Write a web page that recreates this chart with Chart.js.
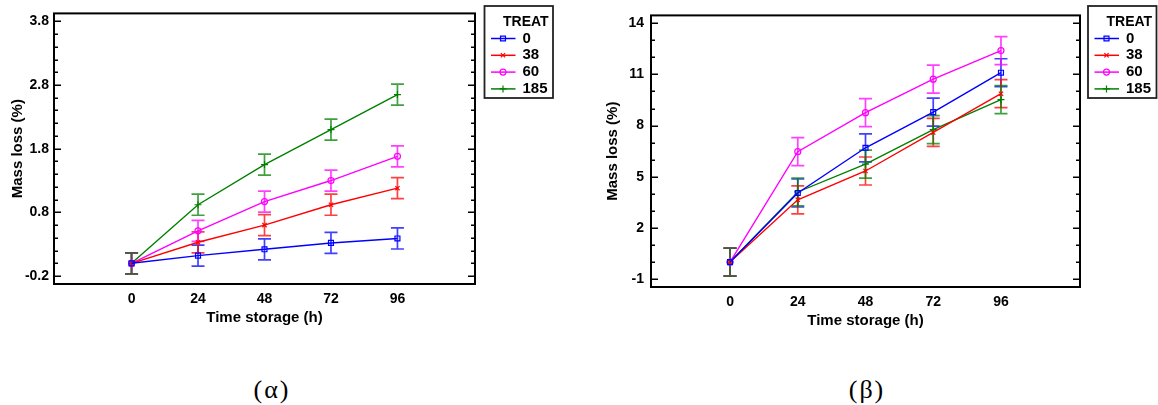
<!DOCTYPE html>
<html><head><meta charset="utf-8">
<script src="https://cdn.jsdelivr.net/npm/chart.js@4.4.1/dist/chart.umd.min.js"></script>
<style>
html,body{margin:0;padding:0;background:#fff;width:1158px;height:405px;overflow:hidden;}
canvas{position:absolute;top:0;}
#ca{left:0;}
#cb{left:580px;}
.cap{position:absolute;font-family:"Liberation Serif","Times New Roman",serif;font-size:26px;letter-spacing:2px;color:#000;transform:translateX(-50%);top:375px;white-space:nowrap;}
</style></head><body>
<canvas id="ca" width="580" height="345"></canvas>
<canvas id="cb" width="578" height="345"></canvas>
<div class="cap" style="left:272px">(α)</div>
<div class="cap" style="left:867px">(β)</div>
<script>
// ---- shared categories ----
const timeLabels = [0, 24, 48, 72, 96];
const treatLabels = ['0', '38', '60', '185'];
const seriesColors = ['#0000ff', '#ff0000', '#ff00ff', '#008000'];
const pointStyles = ['rect', 'crossRot', 'circle', 'cross'];

// ---- chart (α) values ----
const massA_0   = [0.00, 0.12, 0.22, 0.32, 0.39];
const massA_38  = [0.00, 0.33, 0.60, 0.92, 1.18];
const massA_60  = [0.00, 0.51, 0.97, 1.30, 1.68];
const massA_185 = [0.00, 0.92, 1.55, 2.10, 2.65];
const errA = [0.165, 0.165, 0.165, 0.165, 0.165];
const yTicksA = [-0.2, 0.8, 1.8, 2.8, 3.8];
const yTickLabelsA = ['-0.2', '0.8', '1.8', '2.8', '3.8'];

// ---- chart (β) values ----
const massB_0   = [0.00, 4.05, 6.70, 8.79, 11.10];
const massB_38  = [0.00, 3.65, 5.34, 7.60, 9.87];
const massB_60  = [0.00, 6.47, 8.76, 10.72, 12.40];
const massB_185 = [0.00, 4.11, 5.74, 7.76, 9.52];
const errB = [0.82, 0.82, 0.82, 0.82, 0.82];
const yTicksB = [-1, 2, 5, 8, 11, 14];
const yTickLabelsB = ['-1', '2', '5', '8', '11', '14'];

const FONT = '"Liberation Sans", Arial, sans-serif';

function makeDatasets(seriesList, errList) {
  return seriesList.map((arr, k) => ({
    label: treatLabels[k],
    data: timeLabels.map((t, i) => ({ x: t, y: arr[i] })),
    errors: errList,
    borderColor: seriesColors[k],
    backgroundColor: 'rgba(255,255,255,0)',
    borderWidth: 1.4,
    pointStyle: pointStyles[k],
    pointRadius: k === 0 ? 3.5 : (k === 3 ? 3.5 : 3),
    pointBorderWidth: 1.2,
    pointBorderColor: seriesColors[k],
    tension: 0
  }));
}

function drawMarker(ctx, style, x, y, r, color) {
  ctx.save();
  ctx.strokeStyle = color; ctx.lineWidth = 1.2;
  ctx.beginPath();
  if (style === 'rect') { const s = r * Math.SQRT1_2; ctx.rect(x - s, y - s, 2 * s, 2 * s); }
  else if (style === 'circle') { ctx.arc(x, y, r, 0, Math.PI * 2); }
  else if (style === 'crossRot') { const s = r * Math.SQRT1_2; ctx.moveTo(x - s, y - s); ctx.lineTo(x + s, y + s); ctx.moveTo(x - s, y + s); ctx.lineTo(x + s, y - s); }
  else if (style === 'cross') { ctx.moveTo(x - r, y); ctx.lineTo(x + r, y); ctx.moveTo(x, y - r); ctx.lineTo(x, y + r); }
  ctx.stroke();
  ctx.restore();
}

const decorPlugin = {
  id: 'decor',
  beforeDatasetsDraw(chart, args, opts) {
    const ctx = chart.ctx, xs = chart.scales.x, ys = chart.scales.y;
    ctx.save();
    chart.data.datasets.forEach((ds, k) => {
      ctx.strokeStyle = ds.borderColor;
      ctx.globalAlpha = 0.75;
      ctx.lineWidth = 1.7;
      ds.data.forEach((p, i) => {
        const e = ds.errors[i];
        const px = xs.getPixelForValue(p.x);
        const y1 = ys.getPixelForValue(p.y - e), y2 = ys.getPixelForValue(p.y + e);
        ctx.beginPath();
        ctx.moveTo(px, y1); ctx.lineTo(px, y2);
        ctx.moveTo(px - 6.5, y1); ctx.lineTo(px + 6.5, y1);
        ctx.moveTo(px - 6.5, y2); ctx.lineTo(px + 6.5, y2);
        ctx.stroke();
      });
    });
    ctx.restore();
  },
  afterDraw(chart, args, opts) {
    const ctx = chart.ctx, a = chart.chartArea, ys = chart.scales.y;
    ctx.save();
    // frame
    ctx.strokeStyle = '#000'; ctx.lineWidth = 2;
    ctx.strokeRect(a.left, a.top, a.right - a.left, a.bottom - a.top);
    // inside ticks on left and right edges
    ctx.lineWidth = 1.5;
    const minors = [];
    for (let v = opts.minorStart; v <= opts.minorEnd + 1e-9; v += opts.minorStep) minors.push(v);
    minors.forEach(v => {
      const isMajor = opts.majors.some(m => Math.abs(m - v) < 1e-6);
      const len = isMajor ? 7 : 4;
      const py = Math.round(ys.getPixelForValue(v)) + 0.25;
      ctx.beginPath();
      ctx.moveTo(a.left, py); ctx.lineTo(a.left + len, py);
      ctx.moveTo(a.right, py); ctx.lineTo(a.right - len, py);
      ctx.stroke();
    });
    // legend
    const bx = a.right + opts.legendGap, by = 6, bw = 68.5, bh = 92;
    ctx.strokeStyle = '#222'; ctx.lineWidth = 1.8;
    ctx.strokeRect(bx, by, bw, bh);
    ctx.fillStyle = '#000';
    ctx.textBaseline = 'middle'; ctx.textAlign = 'left';
    ctx.font = 'bold 14px ' + FONT;
    ctx.fillText('TREAT', bx + 18.5, 22);
    ctx.font = 'bold 15px ' + FONT;
    chart.data.datasets.forEach((ds, k) => {
      const y = 38.5 + k * 16.8;
      ctx.strokeStyle = ds.borderColor; ctx.lineWidth = 1.5;
      ctx.beginPath(); ctx.moveTo(bx + 6.5, y); ctx.lineTo(bx + 31, y); ctx.stroke();
      drawMarker(ctx, ds.pointStyle, bx + 18.5, y, ds.pointRadius, ds.borderColor);
      ctx.fillStyle = '#000';
      ctx.fillText(ds.label, bx + 38, y);
    });
    ctx.restore();
  }
};

function makeChart(id, datasets, cfg) {
  return new Chart(document.getElementById(id), {
    type: 'line',
    data: { datasets },
    options: {
      responsive: false,
      devicePixelRatio: 1,
      animation: false,
      events: [],
      layout: { padding: { top: cfg.padTop, right: cfg.padRight, left: 0, bottom: 0 } },
      plugins: { legend: { display: false }, tooltip: { enabled: false }, decor: cfg.decor },
      scales: {
        x: {
          type: 'linear', min: -28, max: 124,
          afterBuildTicks: s => { s.ticks = timeLabels.map(v => ({ value: v })); },
          afterFit: s => { s.height = cfg.xHeight; },
          ticks: { padding: 7, color: '#000', font: { family: FONT, size: 14, weight: 'bold' }, callback: (v, i) => String(timeLabels[i]), maxRotation: 0 },
          grid: { display: false, drawTicks: false },
          border: { display: false },
          title: { display: true, text: 'Time storage (h)', color: '#000', font: { family: FONT, size: 15, weight: 'bold' }, padding: { top: 0, bottom: cfg.xTitlePad } }
        },
        y: {
          type: 'linear', min: cfg.yMin, max: cfg.yMax,
          afterBuildTicks: s => { s.ticks = cfg.yTicks.map(v => ({ value: v })); },
          afterFit: s => { s.width = cfg.yWidth; },
          ticks: { padding: cfg.yPad, color: '#000', font: { family: FONT, size: 14, weight: 'bold' }, callback: (v, i) => cfg.yTickLabels[i] },
          grid: { display: false, drawTicks: false },
          border: { display: false },
          title: { display: true, text: 'Mass loss (%)', color: '#000', font: { family: FONT, size: 15, weight: 'bold' }, padding: { top: cfg.yTitlePad, bottom: 0 } }
        }
      }
    },
    plugins: [decorPlugin]
  });
}

makeChart('ca', makeDatasets([massA_0, massA_38, massA_60, massA_185], errA), {
  padTop: 12, padRight: 105, xHeight: 61, yWidth: 54, yPad: 5, xTitlePad: 18, yTitlePad: 9,
  yMin: -0.325, yMax: 3.925, yTicks: yTicksA, yTickLabels: yTickLabelsA,
  decor: { minorStart: -0.2, minorEnd: 3.8, minorStep: 0.2, majors: yTicksA, legendGap: 9.5 }
});

makeChart('cb', makeDatasets([massB_0, massB_38, massB_60, massB_185], errB), {
  padTop: 11, padRight: 78, xHeight: 58, yWidth: 71, yPad: 7, xTitlePad: 15, yTitlePad: 24,
  yMin: -1.46, yMax: 14.46, yTicks: yTicksB, yTickLabels: yTickLabelsB,
  decor: { minorStart: -1, minorEnd: 14, minorStep: 1, majors: yTicksB, legendGap: 8 }
});
</script>
</body></html>
